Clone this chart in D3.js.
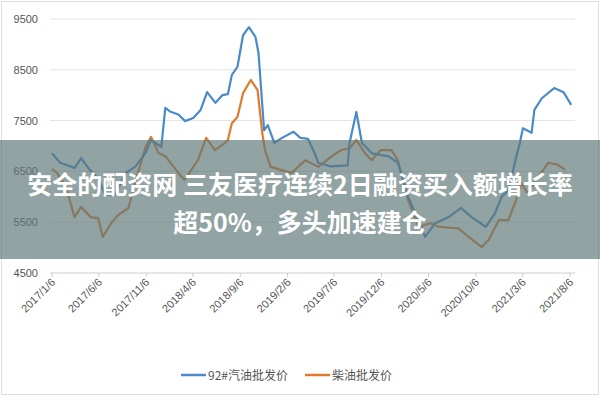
<!DOCTYPE html>
<html><head><meta charset="utf-8">
<script src="https://cdn.jsdelivr.net/npm/d3@7"></script>
<style>body{margin:0;background:#fff}svg{display:block}</style>
</head><body><svg id="c" width="600" height="400"></svg>
<script>
const gasDates=["2017-01-06","2017-02-01","2017-03-20","2017-04-10","2017-05-08","2017-06-04","2017-06-26","2017-07-28","2017-09-01","2017-10-01","2017-11-04","2017-11-22","2017-12-25","2018-01-07","2018-01-22","2018-02-18","2018-03-12","2018-04-07","2018-05-01","2018-05-22","2018-06-18","2018-07-10","2018-07-28","2018-08-10","2018-08-28","2018-09-15","2018-10-04","2018-10-25","2018-11-04","2018-11-22","2018-12-04","2018-12-25","2019-01-19","2019-02-25","2019-03-19","2019-04-13","2019-05-04","2019-05-16","2019-06-25","2019-08-19","2019-08-25","2019-09-16","2019-10-04","2019-11-04","2019-12-04","2019-12-28","2020-01-28","2020-03-01","2020-04-04","2020-04-25","2020-05-28","2020-07-10","2020-08-19","2020-09-22","2020-11-07","2020-12-07","2020-12-28","2021-01-19","2021-02-13","2021-02-25","2021-03-07","2021-04-04","2021-04-13","2021-05-07","2021-06-16","2021-07-16","2021-08-10"];
const gasValues=[6860,6670,6570,6760,6530,6370,6040,6040,6470,6590,6860,7120,6980,7750,7680,7620,7490,7550,7710,8060,7850,8000,8020,8400,8560,9180,9340,9150,8830,7310,7410,7060,7160,7280,7160,7140,6860,6670,6600,6620,7060,7670,7060,6860,6820,6800,6670,6000,5540,5210,5480,5600,5780,5600,5410,5680,6000,6130,6780,7060,7350,7260,7710,7940,8140,8060,7810];
const dieselDates=["2017-01-06","2017-01-22","2017-02-20","2017-03-20","2017-04-10","2017-05-11","2017-06-04","2017-06-19","2017-07-16","2017-08-07","2017-09-10","2017-10-01","2017-11-04","2017-11-22","2017-12-16","2018-01-07","2018-02-18","2018-03-10","2018-04-22","2018-05-19","2018-06-16","2018-07-19","2018-07-28","2018-08-10","2018-08-28","2018-09-15","2018-10-10","2018-11-01","2018-11-16","2018-11-25","2018-12-13","2019-01-16","2019-02-19","2019-04-04","2019-05-16","2019-06-25","2019-07-28","2019-08-25","2019-09-16","2019-10-13","2019-11-04","2019-12-04","2020-01-07","2020-01-28","2020-03-01","2020-04-04","2020-05-13","2020-06-07","2020-08-10","2020-09-13","2020-10-25","2020-11-16","2020-12-19","2021-01-19","2021-02-13","2021-03-01","2021-03-22","2021-04-25","2021-05-28","2021-06-28","2021-07-22"];
const dieselValues=[6550,6470,6190,5600,5800,5600,5580,5210,5480,5640,5780,6270,6980,7180,6860,6800,6470,6330,6720,7160,6920,7060,7120,7450,7570,8040,8300,8100,7260,6920,6590,6530,6470,6720,6590,6780,6920,6950,7120,6860,6720,6920,6920,6720,5940,5410,5480,5410,5380,5210,5010,5150,5540,5540,5940,6270,6070,6390,6670,6630,6530];
const tickLabels=["2017/1/6","2017/6/6","2017/11/6","2018/4/6","2018/9/6","2019/2/6","2019/7/6","2019/12/6","2020/5/6","2020/10/6","2021/3/6","2021/8/6"];
const yTicks=[4500,5500,6500,7500,8500,9500];
const seriesNames=["92#汽油批发价","柴油批发价"];
const colors=["#4a8ac9","#e07b2e"];
const titleLines=["安全的配资网 三友医疗连续2日融资买入额增长率","超50%，多头加速建仓"];

const parse=d3.timeParse("%Y-%m-%d"), tp=d3.timeParse("%Y/%m/%d");
const svg=d3.select("#c");
svg.append("rect").attr("x",1.5).attr("y",1.5).attr("width",597).attr("height",393).attr("fill","#fff").attr("stroke","#ddd");
const x=d3.scaleTime().domain([tp(tickLabels[0]),tp(tickLabels[11])]).range([52,570]);
const y=d3.scaleLinear().domain([4500,9500]).range([273,19]);
const g=svg.append("g");
g.selectAll(".gl").data(yTicks).join("line").attr("x1",50).attr("x2",575).attr("y1",d=>y(d)).attr("y2",d=>y(d)).attr("stroke",(d,i)=>i==0?"#ccc":"#e3e3e3").attr("stroke-width",1);
g.selectAll(".yl").data(yTicks).join("text").attr("x",38).attr("y",d=>y(d)+4).attr("text-anchor","end").attr("font-family","Liberation Sans Narrow, Arial Narrow, sans-serif").attr("font-size",11).attr("fill","#555").text(d=>d);
const xt=tickLabels.map(tp);
g.selectAll(".xt").data(xt).join("line").attr("x1",d=>x(d)).attr("x2",d=>x(d)).attr("y1",273).attr("y2",277).attr("stroke","#ccc");
g.selectAll(".xl").data(tickLabels).join("text").attr("transform",(d,i)=>`translate(${x(xt[i])+4},${283}) rotate(-45)`).attr("text-anchor","end").attr("font-family","Liberation Sans Narrow, sans-serif").attr("font-size",11).attr("fill","#555").text(d=>d);
const line=d3.line().x(d=>x(d[0])).y(d=>y(d[1]));
const sets=[gasDates.map((d,i)=>[parse(d),gasValues[i]]),dieselDates.map((d,i)=>[parse(d),dieselValues[i]])];
[1,0].forEach(k=>g.append("path").attr("d",line(sets[k])).attr("fill","none").attr("stroke",colors[k]).attr("stroke-width",2.2).attr("stroke-linejoin","round"));
// legend
const lx=[181,305];
seriesNames.forEach((n,i)=>{
 svg.append("line").attr("x1",lx[i]).attr("x2",lx[i]+25).attr("y1",375).attr("y2",375).attr("stroke",colors[i]).attr("stroke-width",2.5);
 svg.append("text").attr("x",lx[i]+27).attr("y",380).attr("font-family","Noto Sans CJK SC").attr("font-size",12).attr("fill","#555").text(n);
});
// banner
svg.append("rect").attr("x",0).attr("y",140).attr("width",600).attr("height",119).attr("fill","#5f7878").attr("opacity",0.68);
titleLines.forEach((t,i)=>svg.append("text").attr("x",300).attr("y",[194,232][i]).attr("text-anchor","middle").attr("font-family","Noto Sans CJK SC").attr("font-weight","bold").attr("font-size",25).attr("fill","#fff").text(t));
</script></body></html>
